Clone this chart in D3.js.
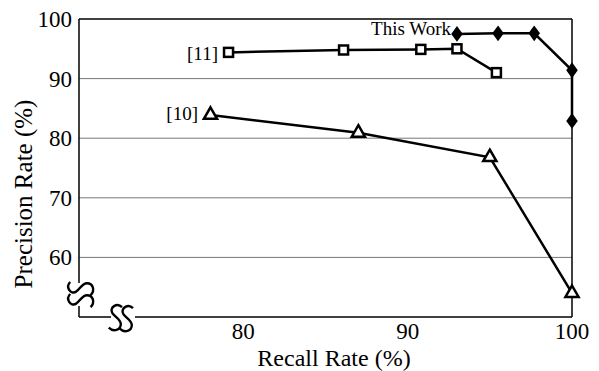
<!DOCTYPE html>
<html>
<head>
<meta charset="utf-8">
<script src="https://cdn.jsdelivr.net/npm/d3@7"></script>
<style>
  body { margin: 0; background: #fff; }
  text { font-family: "Liberation Serif", "DejaVu Serif", serif; fill: #000; }
</style>
</head>
<body>
<svg id="chart" width="599" height="371"></svg>
<script>
// series data (recall %, precision %)
const thisWork = [[93.0, 97.5], [95.5, 97.6], [97.7, 97.6], [100, 91.4], [100, 82.9]];
const ref11 = [[79.1, 94.4], [86.1, 94.8], [90.8, 94.9], [93.0, 95.0], [95.4, 91.0]];
const ref10 = [[78.0, 83.9], [87.0, 80.9], [95.0, 76.8], [100, 54.0]];
const xTicks = [80, 90, 100];
const yTicks = [60, 70, 80, 90, 100];
const gridY = [60, 70, 80, 90];

const svg = d3.select("#chart");
const plotL = 79, plotR = 572, plotT = 19, plotB = 317;

const x = d3.scaleLinear().domain([70, 100]).range([plotL, plotR]);
const y = d3.scaleLinear().domain([50, 100]).range([plotB, plotT]);

// grid lines
svg.append("g").selectAll("line")
  .data(gridY)
  .enter().append("line")
  .attr("x1", plotL).attr("x2", plotR)
  .attr("y1", d => y(d)).attr("y2", d => y(d))
  .attr("stroke", "#777").attr("stroke-width", 1);

// frame: top + right
svg.append("line").attr("x1", plotL).attr("x2", plotR).attr("y1", plotT).attr("y2", plotT)
  .attr("stroke", "#000").attr("stroke-width", 1.5);
svg.append("line").attr("x1", plotR).attr("x2", plotR).attr("y1", plotT).attr("y2", plotB)
  .attr("stroke", "#000").attr("stroke-width", 1.5);

// left axis (broken near bottom)
svg.append("line").attr("x1", plotL).attr("x2", plotL).attr("y1", plotT).attr("y2", 283)
  .attr("stroke", "#000").attr("stroke-width", 1.5);
svg.append("line").attr("x1", plotL).attr("x2", plotL).attr("y1", 306).attr("y2", plotB)
  .attr("stroke", "#000").attr("stroke-width", 1.5);
// bottom axis (broken near left)
svg.append("line").attr("x1", plotL).attr("x2", 111).attr("y1", plotB).attr("y2", plotB)
  .attr("stroke", "#000").attr("stroke-width", 1.5);
svg.append("line").attr("x1", 135).attr("x2", plotR).attr("y1", plotB).attr("y2", plotB)
  .attr("stroke", "#000").attr("stroke-width", 1.5);

// break squiggles
const sPath = "M5,-9 C1,-13 -6,-9 -3,-4 C-1,-1 4,1 4,5 C4,10 -2,12 -6,8";
[[116, 318], [127, 319]].forEach(p => {
  svg.append("path").attr("d", sPath)
    .attr("transform", `translate(${p[0]},${p[1]}) scale(1.2)`)
    .attr("fill", "none").attr("stroke", "#000").attr("stroke-width", 2);
});
[[81, 288], [81, 300]].forEach(p => {
  svg.append("path").attr("d", sPath)
    .attr("transform", `translate(${p[0]},${p[1]}) rotate(-90) scale(1.2)`)
    .attr("fill", "none").attr("stroke", "#000").attr("stroke-width", 2);
});

// tick labels
svg.append("g").selectAll("text")
  .data(yTicks)
  .enter().append("text")
  .attr("x", 72).attr("y", d => y(d) + 8)
  .attr("text-anchor", "end").attr("font-size", 23)
  .text(d => d);

svg.append("g").selectAll("text")
  .data(xTicks)
  .enter().append("text")
  .attr("x", d => x(d)).attr("y", 339)
  .attr("text-anchor", "middle").attr("font-size", 23)
  .text(d => d);

// axis titles
svg.append("text")
  .attr("x", 334).attr("y", 366)
  .attr("text-anchor", "middle").attr("font-size", 24)
  .text("Recall Rate (%)");
svg.append("text")
  .attr("transform", "translate(32,194) rotate(-90)")
  .attr("text-anchor", "middle").attr("font-size", 25)
  .text("Precision Rate (%)");

// lines
const line = d3.line().x(d => x(d[0])).y(d => y(d[1]));
[ref10, ref11, thisWork].forEach(s => {
  svg.append("path").datum(s).attr("d", line)
    .attr("fill", "none").attr("stroke", "#000").attr("stroke-width", 2.5);
});

// markers
svg.append("g").selectAll("path")
  .data(ref10).enter().append("path")
  .attr("d", d3.symbol(d3.symbolTriangle, 75))
  .attr("transform", d => `translate(${x(d[0])},${y(d[1])})`)
  .attr("fill", "#fff").attr("stroke", "#000").attr("stroke-width", 2.5);

svg.append("g").selectAll("rect")
  .data(ref11).enter().append("rect")
  .attr("x", d => x(d[0]) - 4.5).attr("y", d => y(d[1]) - 4.5)
  .attr("width", 9).attr("height", 9)
  .attr("fill", "#fff").attr("stroke", "#000").attr("stroke-width", 2.5);

svg.append("g").selectAll("path")
  .data(thisWork).enter().append("path")
  .attr("d", d3.symbol(d3.symbolDiamond, 80))
  .attr("transform", d => `translate(${x(d[0])},${y(d[1])}) scale(1.2,0.95)`)
  .attr("fill", "#000");

// series labels
svg.append("text").attr("x", 451).attr("y", 35)
  .attr("text-anchor", "end").attr("font-size", 19).text("This Work");
svg.append("text").attr("x", 218).attr("y", 60)
  .attr("text-anchor", "end").attr("font-size", 19).text("[11]");
svg.append("text").attr("x", 198).attr("y", 120)
  .attr("text-anchor", "end").attr("font-size", 19).text("[10]");
</script>
</body>
</html>
